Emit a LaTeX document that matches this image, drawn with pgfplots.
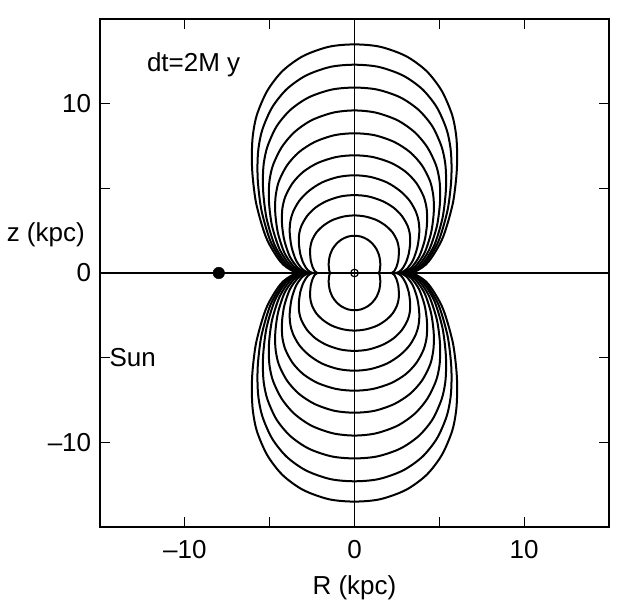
\documentclass[border=0pt]{standalone}
\usepackage{fontspec}
\setmainfont{Liberation Sans}
\usepackage{pgfplots}
\usepackage{pgfplotstable}
\pgfplotsset{compat=1.18}
% upper lobes of the shock fronts (R, z); lower lobes are their mirror images
\pgfplotstableread{
R z
3.12 0
3.63 0.11
4.36 0.66
5.19 2.05
5.78 4.04
6.01 5.78
6.05 7.00
5.99 8.14
5.75 9.35
5.14 10.76
4.24 11.93
3.03 12.81
1.51 13.36
0 13.50
-1.51 13.36
-3.03 12.81
-4.24 11.93
-5.14 10.76
-5.75 9.35
-5.99 8.14
-6.05 7.00
-6.01 5.78
-5.78 4.04
-5.19 2.05
-4.36 0.66
-3.63 0.11
-3.12 0
}\ca
\pgfplotstableread{
R z
3.05 0
3.52 0.09
4.18 0.59
4.94 1.85
5.47 3.64
5.68 5.20
5.72 6.30
5.66 7.36
5.43 8.47
4.86 9.77
4.00 10.85
2.86 11.66
1.43 12.17
0 12.30
-1.43 12.17
-2.86 11.66
-4.00 10.85
-4.86 9.77
-5.43 8.47
-5.66 7.36
-5.72 6.30
-5.68 5.20
-5.47 3.64
-4.94 1.85
-4.18 0.59
-3.52 0.09
-3.05 0
}\cb
\pgfplotstableread{
R z
2.97 0
3.39 0.08
4.00 0.52
4.69 1.61
5.17 3.17
5.36 4.54
5.40 5.50
5.35 6.46
5.13 7.47
4.59 8.66
3.78 9.63
2.70 10.37
1.35 10.83
0 10.95
-1.35 10.83
-2.70 10.37
-3.78 9.63
-4.59 8.66
-5.13 7.47
-5.35 6.46
-5.40 5.50
-5.36 4.54
-5.17 3.17
-4.69 1.61
-4.00 0.52
-3.39 0.08
-2.97 0
}\cc
\pgfplotstableread{
R z
2.88 0
3.26 0.07
3.80 0.45
4.41 1.39
4.85 2.74
5.02 3.92
5.05 4.75
5.00 5.52
4.80 6.38
4.29 7.43
3.54 8.32
2.53 9.02
1.26 9.47
0 9.60
-1.26 9.47
-2.53 9.02
-3.54 8.32
-4.29 7.43
-4.80 6.38
-5.00 5.52
-5.05 4.75
-5.02 3.92
-4.85 2.74
-4.41 1.39
-3.80 0.45
-3.26 0.07
-2.88 0
}\cd
\pgfplotstableread{
R z
2.78 0
3.11 0.06
3.58 0.38
4.12 1.17
4.50 2.31
4.65 3.30
4.68 4.00
4.63 4.67
4.45 5.43
3.98 6.35
3.28 7.13
2.34 7.74
1.17 8.14
0 8.25
-1.17 8.14
-2.34 7.74
-3.28 7.13
-3.98 6.35
-4.45 5.43
-4.63 4.67
-4.68 4.00
-4.65 3.30
-4.50 2.31
-4.12 1.17
-3.58 0.38
-3.11 0.06
-2.78 0
}\ce
\pgfplotstableread{
R z
2.67 0
2.95 0.05
3.35 0.31
3.81 0.97
4.13 1.90
4.26 2.73
4.28 3.30
4.24 3.88
4.07 4.53
3.64 5.32
3.00 5.99
2.14 6.51
1.07 6.85
0 6.95
-1.07 6.85
-2.14 6.51
-3.00 5.99
-3.64 5.32
-4.07 4.53
-4.24 3.88
-4.28 3.30
-4.26 2.73
-4.13 1.90
-3.81 0.97
-3.35 0.31
-2.95 0.05
-2.67 0
}\cf
\pgfplotstableread{
R z
2.55 0
2.77 0.04
3.09 0.24
3.45 0.76
3.70 1.50
3.80 2.15
3.82 2.60
3.78 3.05
3.63 3.59
3.25 4.27
2.67 4.86
1.91 5.35
0.96 5.67
0 5.77
-0.96 5.67
-1.91 5.35
-2.67 4.86
-3.25 4.27
-3.63 3.59
-3.78 3.05
-3.82 2.60
-3.80 2.15
-3.70 1.50
-3.45 0.76
-3.09 0.24
-2.77 0.04
-2.55 0
}\cg
\pgfplotstableread{
R z
2.40 0
2.55 0.03
2.77 0.19
3.02 0.59
3.20 1.15
3.27 1.65
3.28 2.00
3.25 2.37
3.12 2.81
2.79 3.37
2.30 3.86
1.64 4.25
0.82 4.52
0 4.60
-0.82 4.52
-1.64 4.25
-2.30 3.86
-2.79 3.37
-3.12 2.81
-3.25 2.37
-3.28 2.00
-3.27 1.65
-3.20 1.15
-3.02 0.59
-2.77 0.19
-2.55 0.03
-2.40 0
}\ch
\pgfplotstableread{
R z
2.15 0
2.23 0.02
2.35 0.12
2.48 0.38
2.58 0.75
2.61 1.07
2.62 1.30
2.59 1.60
2.49 1.96
2.23 2.41
1.83 2.80
1.31 3.12
0.66 3.33
0 3.40
-0.66 3.33
-1.31 3.12
-1.83 2.80
-2.23 2.41
-2.49 1.96
-2.59 1.60
-2.62 1.30
-2.61 1.07
-2.58 0.75
-2.48 0.38
-2.35 0.12
-2.23 0.02
-2.15 0
}\ci
\pgfplotstableread{
R z
1.42 0
1.44 0.01
1.46 0.05
1.49 0.16
1.51 0.32
1.52 0.45
1.52 0.55
1.50 0.78
1.44 1.07
1.29 1.42
1.06 1.73
0.76 1.98
0.38 2.15
0 2.20
-0.38 2.15
-0.76 1.98
-1.06 1.73
-1.29 1.42
-1.44 1.07
-1.50 0.78
-1.52 0.55
-1.52 0.45
-1.51 0.32
-1.49 0.16
-1.46 0.05
-1.44 0.01
-1.42 0
}\cj
\begin{document}
\fontsize{26}{31}\selectfont
\begin{tikzpicture}
\begin{axis}[
  name=ax,
  scale only axis, width=509pt, height=508pt,
  xmin=-15, xmax=15, ymin=-15, ymax=15,
  xtick={-10,-5,0,5,10}, xticklabels={\textendash10,,0,,10},
  ytick={-10,-5,0,5,10}, yticklabels={\textendash10,,0,,10},
  tick align=inside, major tick length=10pt,
  every tick/.style={black, line width=1pt},
  axis line style={line width=1.3pt},
  tick label style={font=\fontsize{26}{31}\selectfont},
  xticklabel style={yshift=-4pt},
  label style={font=\fontsize{26}{31}\selectfont},
  xlabel={R (kpc)},
  ylabel={z (kpc)},
  every axis y label/.style={at={(axis description cs:0,0.575)}, anchor=east, inner sep=0pt, xshift=-15pt},
  cont/.style={black, line width=2pt, smooth},
]
\addplot[black, line width=1.2pt] coordinates {(-15,0) (15,0)};
\addplot[black, line width=1.2pt] coordinates {(0,-15) (0,15)};
\addplot[cont] table[x=R, y=z] {\ca};
\addplot[cont] table[x=R, y=z] {\cb};
\addplot[cont] table[x=R, y=z] {\cc};
\addplot[cont] table[x=R, y=z] {\cd};
\addplot[cont] table[x=R, y=z] {\ce};
\addplot[cont] table[x=R, y=z] {\cf};
\addplot[cont] table[x=R, y=z] {\cg};
\addplot[cont] table[x=R, y=z] {\ch};
\addplot[cont] table[x=R, y=z] {\ci};
\addplot[cont] table[x=R, y=z] {\cj};
\addplot[cont] table[x=R, y expr=-\thisrow{z}] {\ca};
\addplot[cont] table[x=R, y expr=-\thisrow{z}] {\cb};
\addplot[cont] table[x=R, y expr=-\thisrow{z}] {\cc};
\addplot[cont] table[x=R, y expr=-\thisrow{z}] {\cd};
\addplot[cont] table[x=R, y expr=-\thisrow{z}] {\ce};
\addplot[cont] table[x=R, y expr=-\thisrow{z}] {\cf};
\addplot[cont] table[x=R, y expr=-\thisrow{z}] {\cg};
\addplot[cont] table[x=R, y expr=-\thisrow{z}] {\ch};
\addplot[cont] table[x=R, y expr=-\thisrow{z}] {\ci};
\addplot[cont] table[x=R, y expr=-\thisrow{z}] {\cj};
\addplot[only marks, mark=*, mark size=5.8pt, black] coordinates {(-8,0)};
\addplot[only marks, mark=o, mark size=3.8pt, black, mark options={line width=1.2pt}] coordinates {(0,0)};
\node[anchor=base west, font=\fontsize{26}{31}\selectfont] at (axis cs:-12.75,11.9) {dt=2M y};
\node[anchor=west, font=\fontsize{26}{31}\selectfont, inner sep=0pt] at (axis cs:-14.45,-5) {Sun};
\end{axis}
\path ([xshift=-100pt,yshift=-77pt]ax.south west) rectangle ([xshift=28pt,yshift=19pt]ax.north east);
\end{tikzpicture}
\end{document}
